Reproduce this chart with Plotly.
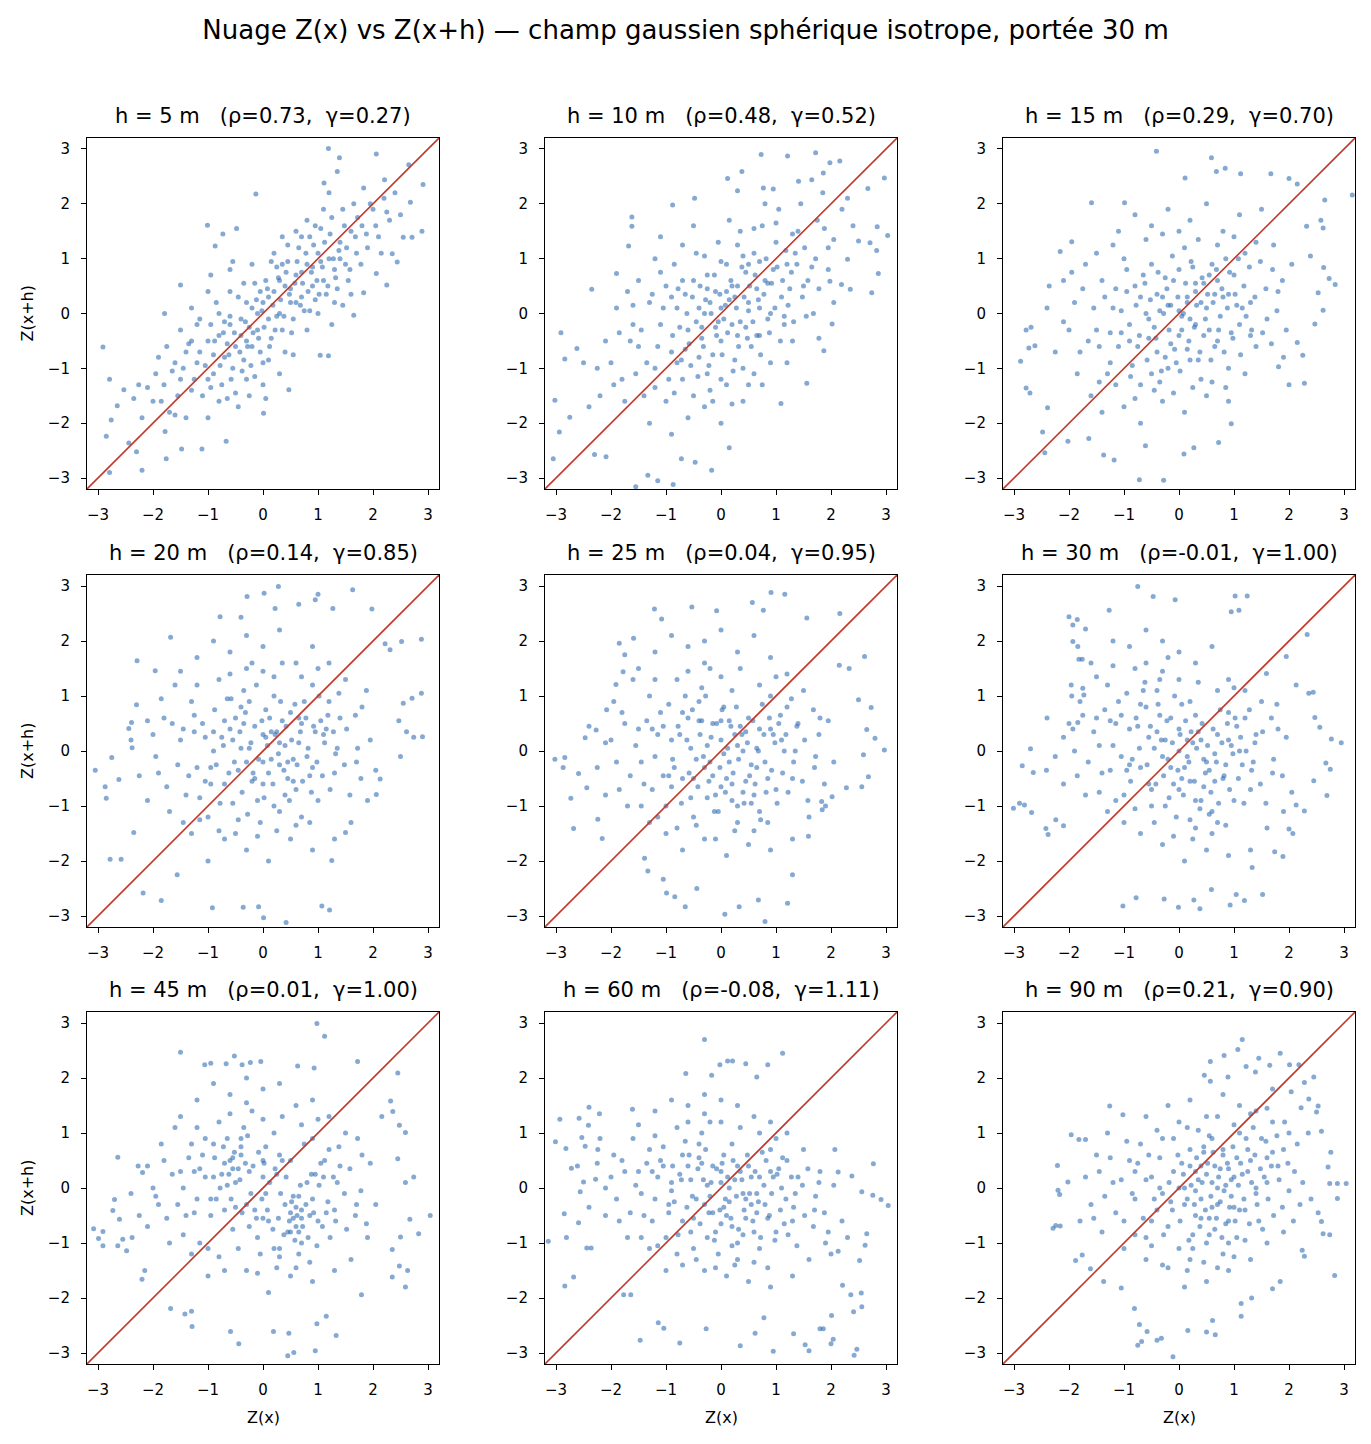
import plotly.graph_objects as go

# lag distances, correlation and semivariance shown in panel titles
lags = [5, 10, 15, 20, 25, 30, 45, 60, 90]
rho = [0.73, 0.48, 0.29, 0.14, 0.04, -0.01, 0.01, -0.08, 0.21]
gamma = [0.27, 0.52, 0.70, 0.85, 0.95, 1.00, 1.00, 1.11, 0.90]
ticks = [-3, -2, -1, 0, 1, 2, 3]
lim = 3.2

# (Z(x), Z(x+h)) pairs (thinned sample of the cloud)
pts_h5 = [(1.19,3.01),(2.06,2.91),(1.39,2.84),(2.65,2.71),(2.91,2.35),(-0.13,2.18),(1.35,2.59),(1.11,2.38),(1.83,2.29),(2.21,2.44),
(2.68,2.03),(2.89,1.50),(2.55,1.39),(-1.01,1.61),(-0.48,1.55),(-0.73,1.45),(-0.87,1.23),(-1.50,0.52),(-1.79,0.0),(-2.91,-0.61),
(-2.79,-1.2),(-2.65,-1.68),(-2.85,-2.24),(-2.2,-2.86),(-2.79,-2.9),(-2.53,-1.39),(-2.26,-1.30),(-1.78,-2.15),(-1.48,-2.47),(-1.11,-2.47),
(-1.76,-2.65),(-0.67,-2.33),(0.01,-1.82),(0.47,-1.39),(1.04,-0.76),(1.19,-0.77),(1.83,0.38),(2.25,0.52),(1.65,-0.03),(2.06,0.73),
(2.35,1.09),(2.44,0.94),(2.71,1.39),(-2.3,-2.52),(-2.44,-2.36),(-2.76,-1.94),
(-1.2,-0.9),(-1.0,-0.5),(-0.9,-1.1),(-0.8,-0.4),(-0.7,-0.8),(-0.6,-0.2),(-0.5,-0.6),(-0.4,-0.1),(-0.3,-0.5),(-0.2,0.1),
(-0.1,-0.3),(0.0,0.2),(0.1,-0.1),(0.2,0.4),(0.3,0.0),(0.4,0.5),(0.5,0.2),(0.6,0.7),(0.7,0.3),(0.8,0.9),
(0.9,0.5),(1.0,1.1),(1.1,0.6),(1.2,1.0),(1.3,0.8),(1.4,1.3),(1.5,0.9),(1.6,1.5),(1.7,1.1),(1.8,1.6),
(-1.5,-1.2),(-1.4,-0.7),(-1.3,-1.4),(-1.6,-0.9),(-1.8,-1.3),(-1.9,-0.8),(-2.0,-1.6),(-1.1,-1.5),(-0.95,-0.2),(-0.85,0.2),
(-0.75,-1.3),(-0.65,-0.55),(-0.55,-1.0),(-0.45,0.3),(-0.35,-0.85),(-0.25,-0.25),(-0.15,0.55),(-0.05,-0.7),(0.05,0.6),(0.15,-0.45),
(0.25,0.85),(0.35,-0.3),(0.45,0.95),(0.55,-0.1),(0.65,1.2),(0.75,0.05),(0.85,1.4),(0.95,0.25),(1.05,1.55),(1.15,0.35),
(1.25,1.75),(1.35,0.45),(1.45,1.9),(1.55,0.6),(1.65,2.0),(1.9,1.2),(2.0,1.9),(2.1,1.4),(2.2,2.1),(2.3,1.7),
(2.4,2.2),(2.5,1.8),(-1.2,-0.2),(-1.0,-1.2),(-0.6,0.4),(-0.3,-1.2),(0.0,-0.9),(0.2,1.1),(0.4,-0.7),(0.6,1.5),
(0.8,-0.3),(1.0,0.0),(1.1,1.9),(-0.2,-0.6),(0.1,0.3),(0.3,0.6),(-0.4,-0.4),(0.7,0.75),(-0.7,-0.15),(-1.3,-0.5),
(-0.9,-0.75),(0.5,0.45),(-0.1,0.0),(0.9,0.85),(-0.5,-1.45),(-0.8,-1.6),(0.0,-1.3),(1.3,0.2),(1.6,0.35),(-1.7,-1.8),
(-1.4,-1.9),(-0.2,0.9),(-0.6,0.8),(-1.0,0.4),(0.35,1.4),(0.8,1.7),(1.2,2.2)]
more_h5 = [(-1.45,-1.0),(-1.35,-0.55),(-1.25,-1.2),(-1.15,-0.7),(-1.05,-0.95),(-0.95,-1.35),(-0.88,-0.5),(-0.78,-0.95),(-0.72,-0.35),(-0.62,-0.75),
(-0.58,-1.2),(-0.52,-0.35),(-0.42,-0.7),(-0.38,-1.05),(-0.32,-0.15),(-0.28,-0.6),(-0.22,-0.95),(-0.18,-0.35),(-0.12,0.25),(-0.08,-0.45),
(-0.02,0.05),(0.02,-0.25),(0.08,0.45),(0.12,-0.6),(0.18,0.15),(0.22,-0.3),(0.28,0.65),(0.32,0.25),(0.38,-0.05),(0.42,0.75),
(0.48,0.35),(0.52,-0.35),(0.58,0.55),(0.62,0.95),(0.68,0.15),(0.72,0.55),(0.78,1.1),(0.82,0.4),(0.88,0.75),(0.92,1.25),
(0.98,0.6),(1.02,0.35),(1.08,0.85),(1.12,1.3),(1.18,0.5),(1.22,1.45),(1.28,1.0),(1.32,0.65),(1.38,1.15),(1.48,1.6),
(1.52,1.2),(1.58,0.8),(1.68,1.4),(1.72,1.75),(1.78,0.9),(1.88,1.45),(1.95,2.0),(2.05,1.6),(2.15,1.1),(2.25,1.85),
(-1.55,-1.5),(-1.65,-1.05),(-1.75,-0.6),(-1.85,-1.6),(-1.95,-1.1),(-2.1,-1.35),(-2.2,-1.9),(-2.35,-1.55),(-1.5,-0.3),(-1.6,-1.85),
(-0.45,-1.7),(-0.25,-1.5),(0.05,-1.55),(0.3,-1.1),(0.55,-0.75),(0.85,0.05),(1.25,-0.2),(1.45,0.15),(-0.95,0.7),(-0.55,0.95),
(-0.35,0.55),(0.15,0.95),(0.45,1.25),(0.7,1.4),(-1.3,0.1),(-1.15,-0.1),(-0.8,0.0),(-0.6,-0.05),(-0.15,-1.15),(0.1,-0.85),
(-0.65,-1.55),(-1.0,-1.9),(0.35,0.9),(0.6,0.2),(-0.3,0.2),(-0.05,0.4),(0.25,-0.05),(0.95,1.6),(1.05,0.95),(1.4,1.0)]

pts_h10 = [(0.73,2.9),(1.21,2.87),(1.72,2.93),(2.16,2.78),(1.98,2.75),(0.38,2.59),(0.12,2.46),(2.97,2.47),(2.67,2.28),(-0.88,1.98),
(-0.48,2.1),(-1.62,1.76),(-1.62,1.59),(-1.68,1.23),(-1.9,0.73),(-2.35,0.44),(-2.91,-0.35),(-2.84,-0.83),(-2.62,-0.64),(-3.02,-1.58),
(-2.94,-2.16),(-3.05,-2.65),(-2.75,-1.89),(-2.3,-2.57),(-2.09,-2.61),(-1.55,-3.16),(-1.15,-3.05),(-0.87,-3.12),(-1.33,-2.95),(-0.17,-2.86),
(-0.47,-2.71),(-0.72,-2.65),(0.15,-2.45),(1.09,-1.64),(1.56,-1.27),(1.87,-0.68),(1.78,-0.45),(2.02,-0.19),(2.35,0.44),(2.74,0.38),
(2.86,0.73),(3.03,1.42),(2.83,1.15),(2.71,1.29),(2.5,1.32),(2.84,1.58),(2.3,0.99),(1.98,0.59),(2.19,0.53),(1.41,2.41),
(1.65,2.44),(1.86,2.56),(0.77,2.29),(0.95,2.27),(0.3,2.24),
(-1.5,-0.6),(-1.3,0.2),(-1.2,-1.0),(-1.1,-0.2),(-1.0,0.5),(-0.9,-0.7),(-0.8,0.1),(-0.7,-1.2),(-0.6,-0.3),(-0.5,0.6),
(-0.4,-0.8),(-0.3,0.0),(-0.2,-1.4),(-0.1,0.4),(0.0,-0.5),(0.1,0.9),(0.2,-0.2),(0.3,0.5),(0.4,-1.0),(0.5,0.2),
(0.6,1.1),(0.7,-0.4),(0.8,0.6),(0.9,0.0),(1.0,1.3),(1.1,0.3),(1.2,0.9),(1.3,-0.5),(1.4,1.5),(1.5,0.5),
(-1.8,-1.2),(-1.7,0.4),(-1.6,-0.2),(-2.0,-0.9),(-2.2,-1.5),(-1.9,0.1),(-1.4,-1.5),(-1.2,1.0),(-1.0,-1.6),(-0.85,0.9),
(-0.75,-0.25),(-0.65,0.35),(-0.55,-0.95),(-0.45,1.1),(-0.35,-0.45),(-0.25,0.7),(-0.15,-0.75),(-0.05,1.3),(0.05,-0.1),(0.15,0.25),
(0.25,-0.85),(0.35,1.5),(0.45,0.75),(0.55,-0.6),(0.65,0.45),(0.75,1.6),(0.85,-0.1),(0.95,0.8),(1.05,1.9),(1.15,-0.2),
(1.25,0.45),(1.35,1.1),(1.45,2.0),(1.55,-0.05),(1.65,0.85),(1.75,1.7),(1.85,2.2),(1.95,1.2),(2.05,0.2),(2.2,1.9),
(2.4,1.6),(2.3,2.1),(-0.3,-1.7),(0.1,-1.3),(0.4,-1.6),(-0.6,-1.9),(-0.9,-2.2),(0.0,-2.0),(0.6,-1.1),(0.9,-0.9),
(-1.3,-2.0),(-0.2,0.2),(0.0,0.1),(0.2,0.5),(-0.4,0.1),(0.3,-0.4),(0.5,0.9),(-0.7,0.6),(0.7,0.1),(-0.1,-0.25),
(0.15,1.7),(-0.5,1.6),(-1.1,1.4),(0.8,2.0),(1.2,-0.9),(-0.8,-0.9),(0.45,-0.25),(-0.25,-1.1)]
more_h10 = [(-1.45,-0.3),(-1.35,-0.9),(-1.25,0.35),(-1.15,-0.6),(-1.05,0.1),(-0.95,-1.2),(-0.88,-0.4),(-0.78,0.45),(-0.72,-0.85),(-0.62,0.0),
(-0.58,-0.55),(-0.52,0.3),(-0.42,-1.15),(-0.38,0.5),(-0.32,-0.6),(-0.28,0.25),(-0.22,-0.95),(-0.18,0.0),(-0.12,0.7),(-0.08,-0.4),
(-0.02,0.35),(0.02,-0.75),(0.08,0.15),(0.12,-0.35),(0.18,0.6),(0.22,-1.05),(0.28,0.1),(0.32,-0.6),(0.38,0.85),(0.42,0.3),
(0.48,-0.45),(0.52,0.5),(0.58,-0.15),(0.62,0.7),(0.68,0.25),(0.72,-0.75),(0.78,0.35),(0.82,1.0),(0.88,-0.35),(0.92,0.55),
(0.98,0.1),(1.02,0.85),(1.08,-0.5),(1.12,0.6),(1.18,1.15),(1.22,0.15),(1.28,0.75),(1.32,-0.15),(1.38,0.9),(1.48,0.3),
(1.52,1.2),(1.58,0.6),(1.68,0.0),(1.72,1.0),(1.78,0.45),(1.88,1.55),(1.95,0.8),(2.05,1.35),(-1.55,-1.1),(-1.65,-0.5),
(-1.75,-1.6),(-1.85,-0.35),(-1.95,-1.3),(-2.1,-0.5),(-2.25,-1.0),(-2.4,-1.7),(-2.5,-0.9),(-1.5,0.6),(-1.1,0.75),(-0.7,1.25),
(-0.3,1.05),(0.0,0.95),(0.3,1.25),(0.6,1.55),(1.0,1.65),(-0.15,-1.6),(0.2,-1.65),(0.5,-1.3),(0.75,-1.3),(-0.5,-1.5),
(-0.85,-1.45),(-1.2,-1.35),(-1.6,0.15),(-0.45,-0.15),(-0.05,-0.15),(0.1,0.4),(0.35,-0.15),(0.65,-0.4),(-0.25,0.45),(0.25,0.3),
(-0.65,-0.65),(0.85,0.55),(1.15,-0.05),(-0.9,0.3),(0.5,0.05),(0.0,-1.2),(0.4,1.05),(-0.35,-0.25),(0.7,0.95),(1.3,1.45)]

pts_h15 = [(-0.41,2.96),(0.59,2.84),(0.68,2.59),(0.84,2.65),(0.11,2.47),(1.12,2.55),(1.67,2.55),(2.0,2.46),(3.15,2.16),(2.65,2.07),
(2.15,2.36),(-1.59,2.02),(-0.99,2.02),(-2.16,1.13),(-1.95,1.31),(-2.36,0.5),(-2.78,-0.3),(-2.69,-0.25),(-2.88,-0.87),(-2.73,-0.63),
(-2.62,-0.59),(-2.78,-1.36),(-2.71,-1.45),(-2.48,-2.16),(-2.44,-2.54),(-2.39,-1.72),(-2.02,-2.33),(-1.64,-2.28),(-1.37,-2.58),(-1.18,-2.67),
(-0.72,-3.03),(-0.28,-3.04),(-0.61,-2.41),(0.09,-2.56),(0.27,-2.45),(0.72,-2.35),(0.95,-2.01),(2.0,-1.3),(2.28,-1.27),(1.81,-0.97),
(2.25,-0.76),(2.15,-0.53),(2.47,-0.19),(2.62,0.06),(2.53,0.38),(2.84,0.53),(2.73,0.64),(2.63,0.84),(2.39,1.05),(2.62,1.56),
(2.58,1.7),(2.32,1.59),
(-1.5,-0.3),(-1.4,0.6),(-1.3,-1.1),(-1.2,0.1),(-1.1,-0.6),(-1.0,1.0),(-0.9,-0.2),(-0.8,0.5),(-0.7,-1.3),(-0.6,0.0),
(-0.5,0.9),(-0.4,-0.7),(-0.3,0.3),(-0.2,-1.0),(-0.1,0.6),(0.0,-0.4),(0.1,1.2),(0.2,-0.1),(0.3,0.4),(0.4,-1.2),
(0.5,0.1),(0.6,0.9),(0.7,-0.5),(0.8,0.3),(0.9,-1.0),(1.0,0.7),(1.1,-0.2),(1.2,1.1),(1.3,0.2),(1.4,-0.6),
(-1.9,0.2),(-1.8,-0.7),(-1.7,0.9),(-1.6,-1.5),(-2.0,-0.3),(-2.1,0.6),(-1.1,1.5),(-0.8,1.8),(-0.5,1.6),(-0.2,1.9),
(0.2,1.7),(0.5,2.0),(0.8,1.5),(1.1,1.8),(1.4,1.3),(1.7,0.8),(1.6,-0.1),(1.8,0.4),(1.9,-0.8),(1.5,1.9),
(1.2,-1.1),(0.9,-1.6),(0.5,-1.5),(0.1,-1.8),(-0.3,-1.6),(-0.7,-2.0),(-1.0,-1.7),(-1.4,-1.8),(-0.45,-0.25),(-0.15,0.15),
(0.15,-0.65),(0.45,0.55),(0.75,-0.05),(-0.75,-0.6),(-0.35,-1.25),(0.35,-0.85),(0.65,0.35),(-0.95,0.4),(1.05,0.15),(0.0,0.8),
(-0.25,0.65),(0.25,0.85),(-0.55,-0.45),(0.55,-0.3),(0.05,-0.05),(-0.65,0.7),(0.85,1.0),(-1.25,-0.35),(1.3,-0.4),(0.3,-0.2),
(-0.05,-0.9),(0.7,0.6),(-0.35,0.05),(0.95,-0.35),(-0.85,-0.95),(0.15,0.3),(-0.15,-0.55),(0.4,0.2)]
more_h15 = [(-1.45,-0.6),(-1.35,0.3),(-1.25,-0.9),(-1.15,0.45),(-1.05,-0.35),(-0.95,0.8),(-0.88,-1.15),(-0.78,0.15),(-0.72,-0.4),(-0.62,0.55),
(-0.58,-0.85),(-0.52,0.25),(-0.42,-0.45),(-0.38,0.75),(-0.32,-1.05),(-0.28,0.0),(-0.22,0.45),(-0.18,-0.3),(-0.12,1.05),(-0.08,-0.65),
(-0.02,0.3),(0.02,-1.05),(0.08,0.0),(0.12,0.55),(0.18,-0.5),(0.22,0.95),(0.28,-0.25),(0.32,0.15),(0.38,-0.7),(0.42,0.65),
(0.48,-0.1),(0.52,0.35),(0.58,-0.85),(0.62,0.2),(0.68,0.8),(0.72,-0.3),(0.78,0.45),(0.82,-0.7),(0.88,0.1),(0.92,0.75),
(0.98,-0.45),(1.02,0.35),(1.08,1.0),(1.12,-0.75),(1.18,0.5),(1.22,-0.05),(1.28,0.85),(1.32,-0.3),(1.38,0.3),(1.48,0.95),
(1.52,-0.35),(1.58,0.45),(1.68,-0.55),(1.72,1.25),(1.78,0.05),(1.88,0.6),(1.95,-0.3),(2.05,0.9),(-1.55,0.1),(-1.65,-0.5),
(-1.75,0.45),(-1.85,-1.1),(-1.95,0.75),(-2.1,-0.15),(-2.25,-0.7),(-2.4,0.1),(-1.5,1.1),(-1.2,1.25),(-0.6,1.35),(-0.3,1.45),
(0.0,1.5),(0.35,1.35),(0.7,1.25),(1.0,1.4),(-0.1,-1.45),(0.25,-1.35),(0.6,-1.25),(0.85,-1.35),(-0.45,-1.4),(-0.8,-1.55),
(-1.15,-1.3),(-1.45,-1.25),(-0.55,-0.1),(-0.2,0.15),(0.15,0.2),(0.45,-0.4),(-0.4,0.35),(0.05,-0.3),(0.3,0.55),(-0.7,0.3),
(0.65,-0.6),(0.9,0.35),(-0.9,-0.5),(-0.25,-0.8),(0.55,0.7),(1.15,0.1),(-1.05,0.05),(0.0,0.05),(0.2,-0.85),(-0.5,-1.1)]

pts_h20 = [(0.28,2.99),(0.02,2.87),(-0.29,2.81),(1.0,2.85),(1.63,2.93),(0.95,2.75),(0.65,2.67),(0.22,2.59),(1.27,2.59),(1.98,2.58),
(-0.78,2.44),(-0.4,2.43),(-1.68,2.07),(-2.29,1.64),(-1.96,1.46),(2.88,2.03),(2.52,1.99),(2.22,1.95),(2.31,1.84),(-2.3,0.84),
(-2.39,0.52),(-2.44,0.41),(-2.75,-0.12),(-3.05,-0.35),(-2.87,-0.65),(-2.85,-0.86),(-2.62,-0.52),(-2.38,0.06),(-2.78,-1.97),(-2.58,-1.97),
(-2.35,-1.48),(-2.18,-2.58),(-1.85,-2.72),(-1.56,-2.25),(-0.92,-2.85),(-0.36,-2.84),(0.01,-3.03),(0.42,-3.12),(-0.08,-2.83),(1.07,-2.82),
(1.21,-2.89),(1.25,-1.99),(1.5,-1.48),(2.06,-0.79),(2.13,-0.51),(2.5,-0.1),(2.71,0.96),(2.88,1.05),(2.9,0.26),(2.74,0.25),
(2.61,0.35),(2.47,0.55),(2.55,0.87),
(-1.5,0.2),(-1.4,-0.8),(-1.3,0.9),(-1.2,-0.3),(-1.1,0.5),(-1.0,-1.2),(-0.9,0.0),(-0.8,1.3),(-0.7,-0.6),(-0.6,0.4),
(-0.5,-1.5),(-0.4,0.8),(-0.3,-0.2),(-0.2,1.6),(-0.1,-0.9),(0.0,0.3),(0.1,-0.4),(0.2,1.0),(0.3,-1.1),(0.4,0.1),
(0.5,0.7),(0.6,-0.7),(0.7,0.5),(0.8,-0.1),(0.9,1.2),(1.0,-0.9),(1.1,0.3),(1.2,0.9),(1.3,-0.4),(1.4,0.6),
(-1.9,-0.4),(-1.8,0.6),(-1.7,-1.1),(-1.6,1.2),(-2.0,0.3),(-2.1,-0.9),(-1.2,1.7),(-0.9,2.0),(-0.6,1.8),(-0.3,2.1),
(0.0,1.9),(0.3,2.2),(0.6,1.6),(0.9,1.9),(1.2,1.6),(1.5,1.3),(1.7,-0.2),(1.8,0.8),(1.9,-0.9),(1.6,-1.3),
(1.3,-1.6),(0.9,-1.8),(0.5,-1.6),(0.1,-2.0),(-0.3,-1.8),(-0.7,-1.6),(-1.0,-2.0),(-1.3,-1.5),(-0.45,-0.35),(-0.15,0.45),
(0.15,-0.15),(0.45,-0.5),(0.75,0.9),(-0.75,0.25),(-0.35,1.1),(0.35,0.55),(0.65,0.15),(-0.95,-0.6),(1.05,0.55),(0.0,-0.6),
(-0.25,0.05),(0.25,0.35),(-0.55,-0.95),(0.55,-0.15),(0.05,0.75),(-0.65,0.95),(0.85,-0.45),(-1.25,0.35),(1.35,0.05),(0.3,-0.25),
(-0.05,-1.3),(0.7,-1.2),(-0.35,0.5),(0.95,0.35),(-0.85,-0.25),(0.2,1.35),(-0.15,-0.5),(0.4,-0.8)]
more_h20 = [(-1.45,0.4),(-1.35,-0.45),(-1.25,0.65),(-1.15,-0.85),(-1.05,0.25),(-0.95,-0.3),(-0.88,0.75),(-0.78,-0.95),(-0.72,0.1),(-0.62,-0.4),
(-0.58,0.95),(-0.52,-0.2),(-0.42,0.35),(-0.38,-0.75),(-0.32,0.7),(-0.28,-1.15),(-0.22,0.15),(-0.18,-0.4),(-0.12,1.2),(-0.08,-0.15),
(-0.02,0.55),(0.02,-0.85),(0.08,0.1),(0.12,0.6),(0.18,-0.6),(0.22,0.3),(0.28,-0.05),(0.32,0.9),(0.38,-0.35),(0.42,0.45),
(0.48,-0.9),(0.52,0.2),(0.58,0.85),(0.62,-0.25),(0.68,0.35),(0.72,-0.55),(0.78,0.6),(0.82,0.05),(0.88,-0.75),(0.92,0.45),
(0.98,-0.2),(1.02,1.0),(1.08,-0.45),(1.12,0.15),(1.18,0.65),(1.22,-0.7),(1.28,0.35),(1.32,-0.05),(1.38,1.05),(1.48,-0.25),
(1.52,0.4),(1.58,-0.8),(1.68,0.65),(1.72,0.05),(1.78,-0.5),(1.88,1.1),(1.95,0.2),(2.05,-0.35),(-1.55,-0.25),(-1.65,0.5),
(-1.75,-0.65),(-1.85,0.95),(-1.95,-0.1),(-2.1,0.55),(-2.25,-0.45),(-2.4,0.2),(-1.5,1.45),(-1.2,1.2),(-0.6,1.4),(-0.3,1.5),
(0.0,1.45),(0.35,1.6),(0.7,1.35),(1.0,1.5),(-0.1,-1.55),(0.25,-1.45),(0.6,-1.35),(0.85,-1.3),(-0.45,-1.25),(-0.8,-1.45),
(-1.15,-1.25),(-1.45,-1.3),(-0.55,0.2),(-0.2,-0.55),(0.15,0.35),(0.45,-0.2),(-0.4,0.05),(0.05,0.25),(0.3,0.15),(-0.7,0.55),
(0.65,0.6),(0.9,-0.3),(-0.9,0.35),(-0.25,0.9),(0.55,-0.55),(1.15,0.4),(-1.05,-0.55),(0.0,-0.2),(0.2,-1.0),(-0.5,0.6)]

pts_h25 = [(0.91,2.88),(1.16,2.85),(0.57,2.7),(2.16,2.5),(1.56,2.42),(0.77,2.56),(-1.21,2.58),(-0.53,2.62),(-0.08,2.55),(-1.08,2.4),
(-1.85,1.96),(-1.59,2.05),(-1.75,1.75),(-1.78,1.44),(-1.91,1.21),(-2.08,0.75),(-2.27,0.38),(-2.47,0.24),(-3.02,-0.15),(-2.84,-0.12),
(-2.87,-0.3),(-2.59,-0.41),(-2.73,-0.86),(-2.44,-0.67),(-2.68,-1.41),(-2.24,-1.24),(-2.16,-1.59),(-1.39,-1.95),(-1.33,-2.18),(-1.05,-2.33),
(-0.99,-2.58),(-0.84,-2.65),(-0.65,-2.83),(-0.44,-2.5),(0.07,-2.97),(0.33,-2.83),(0.8,-3.1),(0.68,-2.71),(1.21,-2.77),(1.3,-2.25),
(1.59,-1.55),(1.84,-1.07),(1.83,-0.92),(2.02,-0.83),(2.28,-0.67),(2.56,-0.65),(2.68,-0.47),(2.59,-0.07),(2.97,0.02),(2.8,0.23),
(2.65,0.39),(2.5,0.93),(2.73,0.79),(2.61,1.72),(2.33,1.5),(2.15,1.56),
(-1.5,0.4),(-1.4,-0.6),(-1.3,1.0),(-1.2,-0.1),(-1.1,0.7),(-1.0,-1.0),(-0.9,0.2),(-0.8,1.3),(-0.7,-0.5),(-0.6,0.6),
(-0.5,-1.2),(-0.4,0.9),(-0.3,-0.3),(-0.2,1.5),(-0.1,-0.8),(0.0,0.2),(0.1,-0.5),(0.2,1.1),(0.3,-1.0),(0.4,0.0),
(0.5,0.6),(0.6,-0.8),(0.7,0.4),(0.8,-0.2),(0.9,1.0),(1.0,-0.7),(1.1,0.2),(1.2,0.8),(1.3,-0.5),(1.4,0.5),
(-1.9,-0.2),(-1.8,0.7),(-1.7,-1.0),(-1.6,1.3),(-2.0,0.2),(-2.1,-0.8),(-1.2,1.8),(-0.9,2.1),(-0.6,1.9),(-0.3,2.0),
(0.0,2.2),(0.3,1.8),(0.6,2.1),(0.9,1.7),(1.2,1.4),(1.5,1.1),(1.7,-0.3),(1.8,0.6),(1.9,-1.0),(1.6,-1.2),
(1.3,-1.6),(0.9,-1.8),(0.5,-1.7),(0.1,-1.9),(-0.3,-1.6),(-0.7,-1.8),(-1.0,-1.5),(-1.3,-1.3),(-0.45,-0.15),(-0.15,0.5),
(0.15,-0.2),(0.45,-0.55),(0.75,0.85),(-0.75,0.3),(-0.35,1.15),(0.35,0.45),(0.65,0.05),(-0.95,-0.45),(1.05,0.5),(0.0,-0.65),
(-0.25,0.1),(0.25,0.3),(-0.55,-0.85),(0.55,-0.25),(0.05,0.8),(-0.65,1.0),(0.85,-0.5),(-1.25,0.4),(1.35,0.0),(0.3,-1.3),
(-0.05,-1.1),(0.7,-1.1),(-0.35,0.55),(0.95,0.3),(-0.85,-0.3),(0.2,-0.9),(-0.15,-0.45),(0.4,-0.75)]
more_h25 = [(-1.45,-0.2),(-1.35,0.55),(-1.25,-0.7),(-1.15,0.3),(-1.05,-0.45),(-0.95,0.85),(-0.88,-0.15),(-0.78,0.45),(-0.72,-0.95),(-0.62,0.2),
(-0.58,-0.4),(-0.52,0.75),(-0.42,-0.65),(-0.38,0.3),(-0.32,-0.1),(-0.28,1.0),(-0.22,-0.55),(-0.18,0.25),(-0.12,-1.1),(-0.08,0.5),
(-0.02,-0.3),(0.02,0.75),(0.08,-0.75),(0.12,0.05),(0.18,0.45),(0.22,-0.4),(0.28,0.8),(0.32,-0.15),(0.38,0.3),(0.42,-0.95),
(0.48,0.15),(0.52,-0.45),(0.58,0.55),(0.62,-0.6),(0.68,0.0),(0.72,-1.25),(0.78,0.3),(0.82,-0.75),(0.88,0.6),(0.92,-0.35),
(0.98,0.15),(1.02,-0.95),(1.08,0.65),(1.12,-0.4),(1.18,0.3),(1.22,-0.75),(1.28,0.95),(1.32,-0.2),(1.38,0.45),(1.48,-0.55),
(1.52,0.2),(1.58,-0.9),(1.68,0.75),(1.72,-0.1),(1.78,0.3),(1.88,-0.6),(1.95,0.55),(2.05,-0.2),(-1.55,0.1),(-1.65,-0.45),
(-1.75,0.5),(-1.85,-0.7),(-1.95,0.9),(-2.1,0.15),(-2.25,-0.3),(-2.4,0.45),(-1.5,1.5),(-1.2,1.3),(-0.6,1.45),(-0.3,1.6),
(0.0,1.35),(0.35,1.5),(0.7,1.2),(1.0,1.35),(-0.1,-1.6),(0.25,-1.45),(0.6,-1.45),(0.85,-1.3),(-0.45,-1.35),(-0.8,-1.4),
(-1.15,-1.2),(-1.45,-1.0),(-0.55,0.05),(-0.2,-0.2),(0.15,0.55),(0.45,0.35),(-0.4,0.55),(0.05,-0.05),(0.3,0.1),(-0.7,0.7),
(0.65,-0.3),(0.9,0.4),(-0.9,-0.65),(-0.25,-0.85),(0.55,-0.95),(1.15,0.0),(-1.05,0.45),(0.0,0.55),(0.2,-0.6),(-0.5,-0.5)]

pts_h30 = [(-0.75,2.99),(-0.47,2.81),(-0.07,2.75),(1.02,2.82),(1.24,2.82),(0.95,2.53),(1.09,2.56),(-2.0,2.44),(-1.85,2.39),(-1.93,2.29),
(-1.27,2.56),(-1.7,2.22),(-1.93,1.99),(-1.84,1.9),(-1.82,1.67),(-1.76,1.67),(-1.96,1.2),(-1.75,1.14),(-1.73,1.02),(-1.84,0.52),
(-1.93,0.4),(-2.7,0.04),(-2.85,-0.27),(-2.65,-0.39),(-2.41,-0.35),(-2.9,-0.95),(-3.01,-1.04),(-2.81,-0.98),(-2.68,-1.12),(-2.42,-1.41),
(-2.38,-1.52),(-2.24,-1.25),(-2.1,-1.36),(-1.02,-2.82),(-0.78,-2.67),(-0.27,-2.69),(-0.01,-2.84),(0.38,-2.87),(0.27,-2.71),(0.59,-2.52),
(0.93,-2.8),(1.04,-2.61),(1.19,-2.72),(1.52,-2.61),(1.33,-2.12),(1.74,-1.83),(1.89,-1.92),(2.07,-1.5),(2.0,-1.42),(2.28,-1.09),
(2.13,-0.98),(2.69,-0.81),(2.45,-0.54),(2.75,-0.33),(2.67,-0.22),(2.95,0.15),(2.77,0.22),(2.56,0.43),(2.47,0.61),(2.36,1.05),
(2.44,1.07),(2.13,1.2),(2.33,2.12),(1.95,1.72),(1.59,1.41),
(-1.5,0.6),(-1.4,-0.4),(-1.3,1.2),(-1.2,0.1),(-1.1,0.9),(-1.0,-0.8),(-0.9,0.4),(-0.8,1.5),(-0.7,-0.3),(-0.6,0.8),
(-0.5,-1.0),(-0.4,1.1),(-0.3,-0.1),(-0.2,1.7),(-0.1,-0.6),(0.0,0.4),(0.1,-0.3),(0.2,0.9),(0.3,-0.9),(0.4,0.2),
(0.5,-0.2),(0.6,-1.1),(0.7,0.3),(0.8,-0.5),(0.9,0.7),(1.0,-0.9),(1.1,0.0),(1.2,0.6),(1.3,-0.7),(1.4,0.3),
(-1.9,0.0),(-1.8,0.9),(-1.7,-0.8),(-1.6,1.6),(-2.0,0.5),(-2.1,-0.6),(-1.2,2.0),(-0.9,1.9),(-0.6,2.2),(-0.3,2.0),
(0.0,1.8),(0.3,1.6),(0.6,1.9),(0.9,1.3),(1.2,1.1),(1.5,0.9),(1.7,-0.4),(1.8,0.4),(1.9,-1.1),(1.6,-1.4),
(1.3,-1.8),(0.9,-1.9),(0.5,-1.8),(0.1,-2.0),(-0.3,-1.7),(-0.7,-1.5),(-1.0,-1.3),(-1.3,-1.1),(-0.45,0.05),(-0.15,0.6),
(0.15,-0.1),(0.45,-0.65),(0.75,0.75),(-0.75,0.45),(-0.35,1.3),(0.35,0.35),(0.65,-0.05),(-0.95,-0.35),(1.05,0.45),(0.0,-0.7),
(-0.25,0.2),(0.25,0.15),(-0.55,-0.6),(0.55,-0.35),(0.05,0.85),(-0.65,1.1),(0.85,-0.25),(-1.25,0.55),(1.35,-0.2),(0.3,-1.4),
(-0.05,-1.2),(0.7,-1.3),(-0.35,0.65),(0.95,0.1),(-0.85,-0.15),(0.2,-0.55),(-0.15,-0.3),(0.4,-0.9)]
more_h30 = [(-1.45,0.1),(-1.35,0.75),(-1.25,-0.35),(-1.15,0.5),(-1.05,-0.1),(-0.95,1.05),(-0.88,-0.55),(-0.78,0.6),(-0.72,0.05),(-0.62,1.25),
(-0.58,-0.25),(-0.52,0.45),(-0.42,-0.6),(-0.38,0.85),(-0.32,0.2),(-0.28,-0.45),(-0.22,0.55),(-0.18,-0.85),(-0.12,0.15),(-0.08,1.0),
(-0.02,-0.35),(0.02,0.3),(0.08,-0.8),(0.12,0.55),(0.18,-0.2),(0.22,0.35),(0.28,-0.55),(0.32,0.05),(0.38,-1.05),(0.42,0.5),
(0.48,-0.4),(0.52,0.1),(0.58,-0.75),(0.62,0.4),(0.68,-0.2),(0.72,-0.95),(0.78,0.15),(0.82,-0.45),(0.88,0.5),(0.92,-0.7),
(0.98,-0.05),(1.02,0.6),(1.08,-0.5),(1.12,0.25),(1.18,-0.95),(1.22,0.0),(1.28,0.75),(1.32,-0.35),(1.38,0.15),(1.48,-0.6),
(1.52,0.35),(1.58,-0.95),(1.68,0.6),(1.72,-0.15),(1.78,0.85),(1.88,-0.45),(1.95,0.25),(2.05,-0.75),(-1.55,0.35),(-1.65,-0.2),
(-1.75,0.65),(-1.85,-0.45),(-1.95,1.0),(-2.1,0.25),(-2.25,-0.1),(-2.4,0.6),(-1.5,1.35),(-1.2,1.55),(-0.6,1.6),(-0.3,1.45),
(0.0,1.3),(0.35,1.25),(0.7,1.1),(1.0,1.15),(-0.1,-1.55),(0.25,-1.6),(0.6,-1.5),(0.85,-1.35),(-0.45,-1.3),(-0.8,-1.05),
(-1.15,-0.9),(-1.45,-0.75),(-0.55,0.25),(-0.2,-0.15),(0.15,0.2),(0.45,-0.15),(-0.4,0.35),(0.05,-0.5),(0.3,0.65),(-0.7,0.85),
(0.65,-0.55),(0.9,0.2),(-0.9,-0.25),(-0.25,-1.0),(0.55,-1.15),(1.15,-0.25),(-1.05,0.65),(0.0,0.0),(0.2,-1.25),(-0.5,-0.7)]

pts_h45 = [(0.98,2.99),(1.12,2.76),(-1.5,2.47),(-1.06,2.24),(-0.95,2.27),(-0.67,2.26),(-0.52,2.4),(-0.38,2.24),(-0.23,2.28),(-0.04,2.3),
(0.63,2.22),(0.93,2.18),(1.72,2.3),(2.45,2.09),(2.32,1.58),(2.36,1.39),(2.59,1.01),(2.48,1.14),(2.16,1.3),(-2.64,0.56),
(-2.27,0.4),(-2.19,0.28),(-2.7,-0.21),(-2.73,-0.41),(-2.61,-0.57),(-3.08,-0.74),(-2.91,-0.79),(-2.99,-0.92),(-2.91,-1.05),(-2.64,-1.05),
(-2.48,-1.14),(-2.55,-0.93),(-2.38,-0.9),(-2.2,-1.66),(-2.15,-1.5),(-1.68,-2.19),(-1.42,-2.29),(-1.3,-2.24),(-1.29,-2.52),(-0.59,-2.61),
(-0.44,-2.83),(0.19,-2.61),(0.47,-2.64),(0.45,-3.05),(0.56,-2.99),(0.95,-2.96),(1.33,-2.68),(1.15,-2.33),(0.98,-2.47),(1.79,-1.94),
(2.59,-1.8),(2.35,-1.62),(2.48,-1.42),(2.63,-1.5),(2.35,-1.12),(2.5,-0.89),(2.83,-0.83),(2.67,-0.57),(3.04,-0.5),(2.74,0.2),
(2.59,0.1),(2.45,0.53),
(-1.5,0.3),(-1.4,-0.5),(-1.3,0.8),(-1.2,-0.2),(-1.1,0.6),(-1.0,-1.1),(-0.9,0.2),(-0.8,1.2),(-0.7,-0.4),(-0.6,0.5),
(-0.5,0.1),(-0.4,0.9),(-0.3,-0.3),(-0.2,1.4),(-0.1,-0.9),(0.0,0.2),(0.1,-0.6),(0.2,1.0),(0.3,-1.1),(0.4,-0.3),
(0.5,0.5),(0.6,-0.7),(0.7,-0.4),(0.8,0.1),(0.9,0.9),(1.0,-0.6),(1.1,0.2),(1.2,0.7),(1.3,-0.4),(1.4,0.4),
(-1.9,-0.3),(-1.8,0.5),(-1.7,-1.0),(-1.6,1.1),(-2.0,0.0),(-2.1,-0.7),(-1.2,1.6),(-0.9,1.9),(-0.6,1.7),(-0.3,2.0),
(0.0,1.8),(0.3,1.9),(0.6,1.5),(0.9,1.6),(1.2,1.3),(1.5,1.0),(1.7,-0.3),(1.8,0.6),(1.9,-0.9),(1.6,-1.3),
(1.3,-1.5),(0.9,-1.7),(0.5,-1.6),(0.1,-1.9),(-0.3,-1.5),(-0.7,-1.5),(-1.0,-1.6),(-1.3,-1.2),(-0.45,0.35),(-0.55,0.55),
(0.55,-0.55),(0.65,-0.8),(0.75,0.8),(-0.75,0.25),(-0.35,1.1),(0.35,0.5),(0.65,-0.15),(-0.95,-0.5),(1.05,0.45),(0.0,-0.55),
(-0.25,0.3),(0.25,0.25),(-0.55,-0.75),(0.5,-0.45),(0.05,0.75),(-0.65,0.9),(0.85,-0.5),(-1.25,0.3),(1.35,0.1),(0.3,-1.25),
(-0.05,-1.2),(0.7,-1.0),(-0.4,0.6),(0.95,0.25),(-0.85,-0.2),(0.6,-0.35),(-0.15,-0.4),(0.45,-0.8)]
more_h45 = [(-1.45,0.0),(-1.35,0.55),(-1.25,-0.45),(-1.15,0.35),(-1.05,0.9),(-0.95,-0.2),(-0.88,0.55),(-0.78,0.0),(-0.72,0.75),(-0.62,0.25),
(-0.58,-0.2),(-0.52,0.65),(-0.42,0.15),(-0.38,-0.45),(-0.32,0.45),(-0.28,0.95),(-0.22,-0.1),(-0.18,0.4),(-0.12,-0.55),(-0.08,0.65),
(-0.02,-0.2),(0.02,0.45),(0.08,-0.4),(0.12,0.1),(0.18,-0.75),(0.22,0.35),(0.28,-0.55),(0.32,-0.1),(0.38,-0.85),(0.42,0.2),
(0.48,-0.6),(0.52,-0.25),(0.58,-0.95),(0.62,-0.5),(0.68,0.05),(0.72,-0.7),(0.78,-0.3),(0.82,-0.9),(0.88,0.25),(0.92,-0.45),
(0.98,-1.05),(1.02,0.05),(1.08,-0.7),(1.12,0.5),(1.18,-0.25),(1.22,-0.9),(1.28,0.2),(1.32,-0.6),(1.38,0.75),(1.48,-0.1),
(1.52,-0.75),(1.58,0.35),(1.68,-0.5),(1.72,0.9),(1.78,-0.05),(1.88,-0.65),(1.95,0.45),(2.05,-0.3),(-1.55,-0.3),(-1.65,0.25),
(-1.75,-0.55),(-1.85,0.8),(-1.95,-0.15),(-2.1,0.4),(-2.25,-0.5),(-2.4,-0.1),(-1.5,1.3),(-1.2,1.1),(-0.6,1.35),(-0.3,1.55),
(0.0,1.25),(0.35,1.3),(0.7,1.15),(1.0,1.25),(-0.1,-1.55),(0.25,-1.45),(0.6,-1.45),(0.85,-1.35),(-0.45,-1.1),(-0.8,-1.25),
(-1.15,-1.0),(-1.45,-0.85),(-0.55,0.35),(-0.65,0.05),(0.5,-0.8),(0.7,-0.55),(-0.4,0.75),(0.05,-0.1),(0.3,0.6),(-0.7,0.45),
(0.65,-1.2),(0.9,-0.2),(-0.9,0.8),(-0.25,-0.7),(0.55,-0.15),(1.15,-0.45),(-1.05,0.2),(0.0,0.5),(0.2,-1.1),(-0.5,-0.35)]

pts_h60 = [(-0.3,2.7),(1.12,2.45),(0.12,2.31),(0.21,2.31),(-0.02,2.24),(0.45,2.26),(0.85,2.24),(-0.64,2.08),(-0.17,2.05),(0.65,2.02),
(-2.4,1.47),(-2.21,1.35),(-2.93,1.25),(-2.58,1.27),(-1.61,1.43),(-2.41,1.14),(-3.01,0.84),(-2.53,0.92),(-2.82,0.72),(-2.47,0.76),
(-2.24,0.7),(-2.72,0.36),(-2.61,0.4),(-2.5,0.11),(-2.56,-0.07),(-2.28,0.16),(-2.85,-0.47),(-2.59,-0.63),(-2.81,-0.9),(-3.14,-0.97),
(-2.44,-1.09),(-2.36,-1.09),(-2.68,-1.62),(-2.84,-1.78),(-1.77,-1.94),(-1.64,-1.94),(-1.47,-2.77),(-0.75,-2.82),(-1.14,-2.45),(-1.04,-2.55),
(-0.27,-2.56),(0.35,-2.87),(0.95,-2.97),(0.62,-2.64),(0.78,-2.36),(1.32,-2.65),(1.53,-2.85),(1.6,-2.96),(2.0,-2.83),(2.04,-2.75),
(2.42,-3.04),(2.47,-2.93),(1.8,-2.56),(1.86,-2.56),(2.56,-2.16),(2.41,-2.25),(2.01,-2.32),(2.36,-1.94),(2.55,-1.91),(2.21,-1.77),
(2.77,0.44),(3.04,-0.32),(2.91,-0.21),(2.76,-0.13),(2.56,-0.07),(2.38,0.22),(2.13,0.29),(2.07,0.7),(2.65,-0.83),(2.62,-1.04),
(2.52,-1.32),(2.13,-1.15),
(-1.5,0.3),(-1.4,-0.5),(-1.3,0.7),(-1.2,-0.2),(-1.1,0.5),(-1.0,-0.9),(-0.9,0.1),(-0.8,1.1),(-0.7,-0.6),(-0.6,0.4),
(-0.5,-1.1),(-0.4,0.8),(-0.3,-0.3),(-0.2,1.2),(-0.1,-0.8),(0.0,0.1),(0.1,-0.5),(0.2,0.8),(0.3,-1.0),(0.4,-0.1),
(0.5,0.4),(0.6,-0.8),(0.7,0.2),(0.8,-0.3),(0.9,0.7),(1.0,-0.8),(1.1,0.0),(1.2,0.5),(1.3,-0.6),(1.4,0.2),
(-1.9,-0.2),(-1.8,0.5),(-1.7,-0.9),(-1.6,0.9),(-2.0,0.2),(-2.1,-0.5),(-1.2,1.4),(-0.9,1.6),(-0.6,1.5),(-0.3,1.7),
(0.0,1.6),(0.3,1.5),(0.6,1.3),(0.9,1.2),(1.2,1.0),(1.5,0.7),(1.7,-0.4),(1.8,0.3),(1.9,-1.0),(1.6,-1.3),
(1.3,-1.6),(0.9,-1.8),(0.5,-1.7),(0.1,-1.6),(-0.3,-1.5),(-0.7,-1.4),(-1.0,-1.5),(-1.3,-1.1),(-0.45,-0.2),(-0.15,0.4),
(0.15,-0.25),(0.45,-0.55),(0.75,0.65),(-0.75,0.25),(-0.35,1.0),(0.35,0.3),(0.65,-0.1),(-0.95,-0.45),(1.05,0.35),(0.0,-0.65),
(-0.25,0.05),(0.25,0.15),(-0.55,-0.8),(0.55,-0.3),(0.05,0.6),(-0.65,0.85),(0.85,-0.55),(-1.25,0.3),(1.35,-0.1),(0.3,-1.3),
(-0.05,-1.2),(0.7,-1.1),(-0.35,0.45),(0.95,0.2),(-0.85,-0.25),(0.2,-0.7),(-0.15,-0.45),(0.4,-0.85),(2.2,-0.6),(2.0,-1.2),
(2.3,-0.9),(-2.2,0.9)]
more_h60 = [(-1.45,-0.1),(-1.35,0.45),(-1.25,-0.6),(-1.15,0.2),(-1.05,0.75),(-0.95,-0.3),(-0.88,0.4),(-0.78,-0.85),(-0.72,0.15),(-0.62,-0.35),
(-0.58,0.6),(-0.52,-0.15),(-0.42,0.35),(-0.38,-0.65),(-0.32,0.15),(-0.28,0.7),(-0.22,-0.45),(-0.18,0.1),(-0.12,-0.95),(-0.08,0.35),
(-0.02,-0.4),(0.02,0.45),(0.08,-0.2),(0.12,0.2),(0.18,-0.55),(0.22,0.5),(0.28,-0.15),(0.32,-0.75),(0.38,0.15),(0.42,-0.4),
(0.48,0.6),(0.52,-0.1),(0.58,-0.6),(0.62,0.3),(0.68,-0.25),(0.72,-0.9),(0.78,0.05),(0.82,0.5),(0.88,-0.5),(0.92,-0.1),
(0.98,-0.95),(1.02,0.25),(1.08,-0.4),(1.12,0.55),(1.18,-0.2),(1.22,-0.85),(1.28,0.2),(1.32,-0.35),(1.38,-1.05),(1.48,0.05),
(1.52,-0.5),(1.58,0.35),(1.68,-0.7),(1.72,-0.15),(1.78,0.1),(1.88,-0.45),(1.95,-0.8),(2.05,0.05),(-1.55,0.05),(-1.65,-0.45),
(-1.75,0.3),(-1.85,-0.6),(-1.95,0.6),(-2.1,0.0),(-2.25,0.45),(-2.4,-0.35),(-1.5,1.15),(-1.2,0.95),(-0.6,1.2),(-0.3,1.35),
(0.0,1.2),(0.35,1.1),(0.7,1.0),(1.0,0.9),(-0.1,-1.45),(0.25,-1.4),(0.6,-1.35),(0.85,-1.45),(-0.45,-1.3),(-0.8,-1.2),
(-1.15,-1.05),(-1.45,-0.9),(-0.55,0.15),(-0.2,-0.15),(0.15,0.0),(0.45,-0.2),(-0.4,0.55),(0.05,-0.35),(0.3,0.4),(-0.7,0.6),
(0.65,-0.45),(0.9,0.3),(-0.9,-0.05),(-0.25,-0.9),(0.55,0.2),(1.15,-0.65),(-1.05,0.4),(0.0,0.3),(0.2,-1.05),(-0.5,-0.55)]

pts_h90 = [(1.15,2.7),(1.07,2.52),(0.82,2.41),(1.84,2.45),(1.45,2.36),(1.65,2.23),(2.01,2.24),(2.18,2.24),(0.57,2.3),(1.22,2.21),
(1.39,2.11),(0.46,2.05),(0.89,2.02),(0.57,1.94),(2.45,2.02),(2.28,1.92),(-1.26,1.49),(-1.02,1.33),(-1.96,0.97),(-1.82,0.88),
(-1.7,0.88),(-2.21,0.41),(-2.2,-0.04),(-2.17,-0.12),(-2.02,0.11),(-2.29,-0.73),(-2.24,-0.68),(-2.16,-0.69),(-1.88,-1.32),(-1.76,-1.22),
(-1.61,-1.47),(-1.37,-1.7),(-1.05,-1.82),(-0.81,-2.19),(-0.72,-2.48),(-0.58,-2.61),(-0.75,-2.86),(-0.68,-2.79),(-0.4,-2.77),(-0.32,-2.73),
(-0.11,-3.07),(0.16,-2.59),(0.5,-2.62),(0.66,-2.67),(0.61,-2.41),(1.13,-2.33),(1.13,-2.1),(1.32,-2.0),(1.7,-1.83),(1.84,-1.7),
(2.83,-1.59),(2.28,-1.24),(2.24,-1.13),(2.62,-0.83),(2.74,-0.85),(2.88,-0.19),(2.74,0.08),(2.88,0.08),(3.04,0.08),(2.59,-0.61),
(2.53,-0.45),(2.76,0.65),(2.71,0.38),(2.59,1.03),(2.5,1.38),(2.53,1.49),(2.36,1.62),(2.22,1.46),(2.04,1.75),
(-1.2,0.1),(-1.0,-0.6),(-0.9,0.5),(-0.8,-0.2),(-0.7,0.8),(-0.6,-0.9),(-0.5,0.2),(-0.4,-0.4),(-0.3,0.9),(-0.2,-0.7),
(-0.1,0.3),(0.0,-1.1),(0.1,0.0),(0.2,0.7),(0.3,-0.5),(0.4,0.4),(0.5,-1.0),(0.6,0.1),(0.7,-0.3),(0.8,0.6),
(0.9,-0.6),(1.0,0.2),(1.1,1.0),(1.2,-0.4),(1.3,0.5),(1.4,-0.1),(1.5,0.9),(1.6,0.1),(1.7,1.2),(1.8,0.4),
(-1.6,-0.3),(-1.5,0.6),(-1.4,-0.8),(-1.3,1.0),(-1.7,0.2),(-1.8,-0.6),(-0.6,1.3),(-0.2,1.5),(0.2,1.6),(0.5,1.3),
(0.8,1.7),(1.1,1.5),(1.4,1.4),(1.7,1.8),(2.0,1.0),(2.1,0.3),(2.2,-0.3),(1.9,-0.8),(1.6,-1.0),(1.3,-1.3),
(0.9,-1.5),(0.5,-1.7),(0.1,-1.8),(-0.3,-1.4),(-0.6,-1.3),(-1.0,-1.1),(0.15,-0.2),(0.35,0.15),(0.55,-0.55),(0.75,0.35),
(0.95,-0.15),(1.15,0.25),(0.25,-0.85),(0.45,0.75),(0.65,-0.75),(0.85,0.05),(1.05,-0.9),(1.25,0.7),(0.05,0.45),(-0.15,-0.25),
(-0.35,0.0),(0.6,-0.35),(0.7,0.0),(0.4,-0.2),(0.9,0.35),(1.0,-0.35),(0.3,0.3),(0.2,-1.3),(0.8,-1.2),(-0.5,-0.6),
(-0.8,0.3),(1.45,-0.6),(1.6,0.55),(1.9,0.7),(2.0,-0.05),(-0.1,0.9),(0.55,0.95),(0.15,1.1),(1.35,1.1)]
more_h90 = [(-0.85,-0.1),(-0.75,0.45),(-0.65,-0.55),(-0.55,0.6),(-0.45,-0.2),(-0.35,0.55),(-0.28,-0.85),(-0.18,0.1),(-0.12,-0.4),(-0.02,0.6),
(0.02,-0.6),(0.08,0.25),(0.18,-0.95),(0.22,0.05),(0.28,-0.3),(0.32,0.55),(0.38,-0.7),(0.42,0.1),(0.48,-0.4),(0.52,0.45),
(0.58,-0.15),(0.62,0.65),(0.68,-0.55),(0.72,0.2),(0.78,-0.9),(0.82,-0.05),(0.88,0.45),(0.92,-0.35),(0.98,0.75),(1.02,-0.6),
(1.08,0.05),(1.12,0.45),(1.18,-0.2),(1.22,0.9),(1.28,-0.65),(1.32,0.1),(1.38,0.6),(1.42,-0.3),(1.48,0.35),(1.52,-0.75),
(1.58,0.85),(1.62,-0.2),(1.68,0.4),(1.72,-0.5),(1.78,0.95),(1.82,0.15),(1.88,-0.35),(1.92,1.2),(1.98,0.45),(2.08,-0.6),
(2.15,0.8),(2.25,0.1),(2.35,1.0),(2.4,-0.2),(-1.05,0.15),(-1.15,-0.45),(-1.25,0.55),(-1.35,-0.15),(-1.45,0.3),(-1.55,-0.55),
(-0.95,0.85),(-0.4,1.05),(0.0,1.2),(0.35,1.05),(0.7,1.3),(1.0,1.15),(1.3,1.35),(1.6,1.45),(-0.2,-1.45),(0.15,-1.5),
(0.45,-1.35),(0.7,-1.45),(1.0,-1.25),(1.2,-0.95),(-0.5,-1.05),(-0.8,-0.85),(0.3,-0.05),(0.5,0.25),(0.75,-0.25),(0.95,0.15),
(0.4,-0.55),(0.65,0.4),(0.85,-0.65),(1.1,-0.4),(0.2,0.4),(0.55,-0.85),(1.05,0.55),(0.1,-0.3),(1.25,0.3),(0.6,0.9),
(0.9,-1.0),(1.4,0.0),(-0.3,-0.1),(0.45,0.65),(1.7,0.65),(0.8,0.7),(-0.6,0.15),(0.25,-1.1),(1.55,0.2),(0.0,0.0)]

panels = [pts_h5 + more_h5, pts_h10 + more_h10, pts_h15 + more_h15,
          pts_h20 + more_h20, pts_h25 + more_h25, pts_h30 + more_h30,
          pts_h45 + more_h45, pts_h60 + more_h60, pts_h90 + more_h90]

# page has an 8px body margin, so pixel positions are measured minus 8
W, H = 1371, 1444
off = 8
col_px = [(87, 439), (545, 897), (1003, 1355)]
row_px = [(138, 489), (575, 927), (1012, 1364)]

fig = go.Figure()
annotations = []
nb = "\u00a0"

for i, pts in enumerate(panels):
    r, c = divmod(i, 3)
    ax = "" if i == 0 else str(i + 1)
    xd = [(col_px[c][0] - off) / W, (col_px[c][1] - off) / W]
    yd = [1 - (row_px[r][1] - off) / H, 1 - (row_px[r][0] - off) / H]

    xs = [p[0] for p in pts]
    ys = [p[1] for p in pts]
    fig.add_trace(go.Scatter(
        x=xs, y=ys, mode="markers", xaxis="x" + ax, yaxis="y" + ax,
        marker=dict(size=5, color="#2d6ab1", opacity=0.58, line=dict(width=0)),
        showlegend=False, hoverinfo="skip"))
    fig.add_trace(go.Scatter(
        x=[-lim, lim], y=[-lim, lim], mode="lines", xaxis="x" + ax, yaxis="y" + ax,
        line=dict(color="#c0392b", width=1.6), showlegend=False, hoverinfo="skip"))

    axis_common = dict(range=[-lim, lim], tickvals=ticks, showgrid=False, zeroline=False,
                       showline=True, linecolor="black", linewidth=1.1, mirror=True,
                       ticks="outside", ticklen=5, tickwidth=1, tickcolor="black",
                       tickfont=dict(size=15, color="black"))
    fig.layout["xaxis" + ax] = dict(domain=xd, anchor="y" + ax, ticklabelstandoff=7, **axis_common)
    fig.layout["yaxis" + ax] = dict(domain=yd, anchor="x" + ax, ticklabelstandoff=8, **axis_common)

    title = f"h = {lags[i]} m   (ρ={rho[i]:.2f},  γ={gamma[i]:.2f})".replace(" ", nb)
    annotations.append(dict(text=title, x=(xd[0] + xd[1]) / 2, y=yd[1], xref="paper", yref="paper",
                            xanchor="center", yanchor="bottom", yshift=8, showarrow=False,
                            font=dict(size=21, color="black")))
    if c == 0:
        annotations.append(dict(text="Z(x+h)", x=(27 - off) / W, y=(yd[0] + yd[1]) / 2,
                                xref="paper", yref="paper", xanchor="center", yanchor="middle",
                                textangle=-90, showarrow=False, font=dict(size=16, color="black")))
    if r == 2:
        annotations.append(dict(text="Z(x)", x=(xd[0] + xd[1]) / 2, y=1 - (1417 - off) / H,
                                xref="paper", yref="paper", xanchor="center", yanchor="middle",
                                showarrow=False, font=dict(size=16, color="black")))

fig.update_layout(
    width=W, height=H,
    margin=dict(l=0, r=0, t=0, b=0),
    paper_bgcolor="white", plot_bgcolor="white",
    font=dict(family="DejaVu Sans", color="black"),
    title=dict(text="Nuage Z(x) vs Z(x+h) — champ gaussien sphérique isotrope, portée 30 m",
               x=(685.5 - off) / W, xanchor="center", y=1 - (30 - off) / H, yanchor="middle",
               font=dict(size=26)),
    annotations=annotations,
)

fig.write_html("out.html")
